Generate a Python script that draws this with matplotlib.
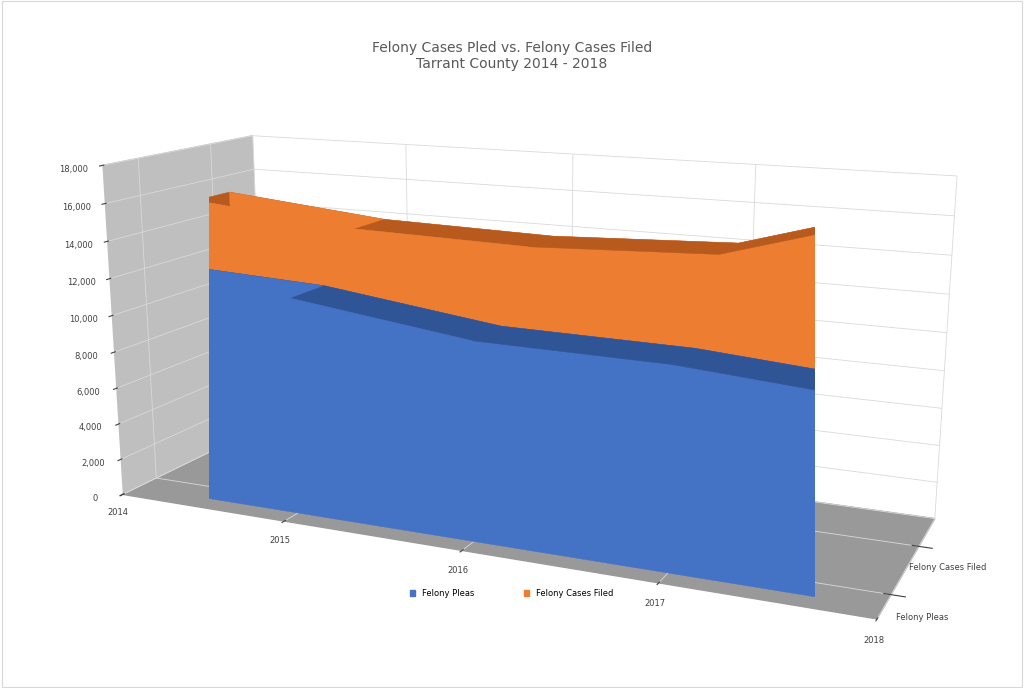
import matplotlib
matplotlib.use("Agg")
import matplotlib.pyplot as plt
from mpl_toolkits.mplot3d.art3d import Poly3DCollection
from matplotlib.patches import Patch
from matplotlib.ticker import FuncFormatter

years = ["2014", "2015", "2016", "2017", "2018"]
series_names = ["Felony Pleas", "Felony Cases Filed"]
felony_pleas = [12000, 11600, 10400, 10300, 9600]
felony_filed = [15000, 14100, 13900, 14300, 17200]
colors = [("#4472C4", "#2F5597", "#30539A"), ("#ED7D31", "#B85A1E", "#A9541D")]

fig = plt.figure(figsize=(10.24, 6.88), dpi=100)
ax = fig.add_axes([-0.02, 0.05, 1.04, 0.88], projection="3d", computed_zorder=False)
ax.view_init(elev=14, azim=-66)
ax.set_proj_type("persp", focal_length=0.5)

depth = 0.5
for si, vals in reversed(list(enumerate([felony_pleas, felony_filed]))):
    y0 = si
    y1 = si + depth
    face, top, side = colors[si]
    n = len(vals)
    polys, cols = [], []
    polys.append([(i, y1, 0) for i in range(n)] + [(i, y1, vals[i]) for i in reversed(range(n))]); cols.append(face)
    for i in range(n - 1):
        polys.append([(i, y0, vals[i]), (i + 1, y0, vals[i + 1]), (i + 1, y1, vals[i + 1]), (i, y1, vals[i])]); cols.append(top)
    polys.append([(n - 1, y0, 0), (n - 1, y1, 0), (n - 1, y1, vals[-1]), (n - 1, y0, vals[-1])]); cols.append(side)
    polys.append([(i, y0, 0) for i in range(n)] + [(i, y0, vals[i]) for i in reversed(range(n))]); cols.append(face)
    pc = Poly3DCollection(polys, facecolors=cols, edgecolors=cols, linewidths=0.3, zorder=5 + (1 - si))
    ax.add_collection3d(pc)

ax.set_xlim(0, 4)
ax.set_ylim(-0.2, 1.9)
ax.set_zlim(0, 18000)
ax.set_xticks(range(len(years)))
ax.set_xticklabels(years, fontsize=6)
ax.set_yticks([0.25, 1.25])
ax.set_yticklabels(series_names, fontsize=6)
ax.set_zticks(range(0, 18001, 2000))
ax.zaxis.set_major_formatter(FuncFormatter(lambda v, p: f"{int(v):,}"))
try:
    ax.zaxis.set_ticks_position("lower")
except Exception:
    pass
ax.tick_params(labelsize=6, colors="#404040", pad=0)
ax.xaxis.set_pane_color((0.75, 0.75, 0.75, 1))
ax.yaxis.set_pane_color((1, 1, 1, 1))
ax.zaxis.set_pane_color((0.6, 0.6, 0.6, 1))
for a in (ax.xaxis, ax.yaxis, ax.zaxis):
    a._axinfo["grid"]["color"] = "#D9D9D9"
    a._axinfo["grid"]["linewidth"] = 0.6
    a.line.set_color((0, 0, 0, 0))
ax.set_box_aspect((3.2, 1.1, 1.4), zoom=1.45)

fig.suptitle("Felony Cases Pled vs. Felony Cases Filed\nTarrant County 2014 - 2018",
             y=0.94, fontsize=10, color="#595959")
fig.legend(handles=[Patch(color=colors[0][0], label=series_names[0]),
                    Patch(color=colors[1][0], label=series_names[1])],
           loc="lower center", bbox_to_anchor=(0.5, 0.12), ncol=2, frameon=False,
           fontsize=6, handlelength=0.6, handleheight=0.6, columnspacing=6)
fig.patches.append(plt.Rectangle((0.002, 0.002), 0.996, 0.996, transform=fig.transFigure,
                                 fill=False, edgecolor="#D9D9D9", linewidth=0.8))
fig.savefig("out.png", dpi=100)
